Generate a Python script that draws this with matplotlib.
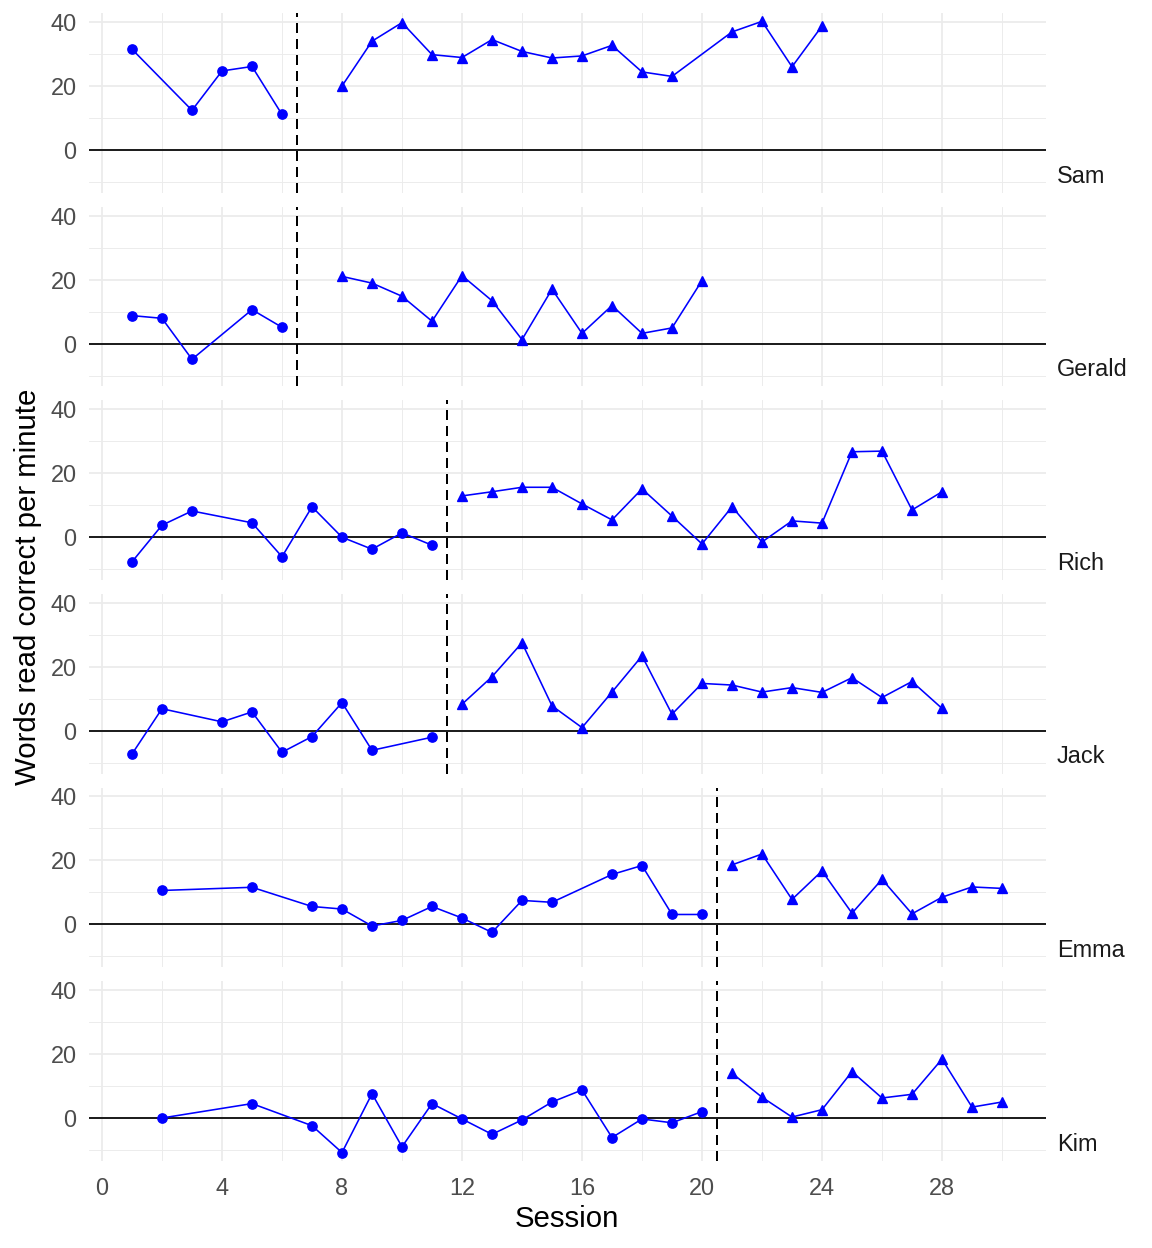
import matplotlib
matplotlib.use("Agg")
import matplotlib.pyplot as plt
from matplotlib.ticker import MultipleLocator

plt.rcParams['font.family'] = ['Liberation Sans', 'DejaVu Sans']

participants = ["Sam", "Gerald", "Rich", "Jack", "Emma", "Kim"]

sam_base_x = [1, 3, 4, 5, 6]
sam_base_y = [31.5, 12.4, 24.7, 26.1, 11.1]
sam_trt_x = [8, 9, 10, 11, 12, 13, 14, 15, 16, 17, 18, 19, 21, 22, 23, 24]
sam_trt_y = [20, 34, 39.8, 29.8, 28.9, 34.5, 30.8, 28.75, 29.4, 32.7, 24.4, 23, 36.9, 40.2, 26, 38.75]

gerald_base_x = [1, 2, 3, 5, 6]
gerald_base_y = [8.75, 7.9, -4.9, 10.6, 5.1]
gerald_trt_x = [8, 9, 10, 11, 12, 13, 14, 15, 16, 17, 18, 19, 20]
gerald_trt_y = [21, 18.9, 14.8, 7, 21.25, 13.4, 1.25, 17, 3.2, 11.9, 3.2, 4.9, 19.7]

rich_base_x = [1, 2, 3, 5, 6, 7, 8, 9, 10, 11]
rich_base_y = [-7.7, 3.75, 8.2, 4.5, -6.1, 9.5, 0, -3.75, 1.35, -2.5]
rich_trt_x = [12, 13, 14, 15, 16, 17, 18, 19, 20, 21, 22, 23, 24, 25, 26, 27, 28]
rich_trt_y = [12.9, 14.2, 15.6, 15.6, 10.4, 5.4, 15.1, 6.6, -2.1, 9.5, -1.5, 5.1, 4.4, 26.7, 26.9, 8.5, 14.2]

jack_base_x = [1, 2, 4, 5, 6, 7, 8, 9, 11]
jack_base_y = [-7.25, 6.9, 2.8, 5.9, -6.7, -1.8, 8.8, -6.1, -2.0]
jack_trt_x = [12, 13, 14, 15, 16, 17, 18, 19, 20, 21, 22, 23, 24, 25, 26, 27, 28]
jack_trt_y = [8.3, 16.9, 27.5, 7.8, 1.0, 12.1, 23.4, 5.2, 14.8, 14.3, 12.1, 13.5, 12.0, 16.6, 10.4, 15.4, 7.0]

emma_base_x = [2, 5, 7, 8, 9, 10, 11, 12, 13, 14, 15, 17, 18, 19, 20]
emma_base_y = [10.6, 11.6, 5.6, 4.8, -0.5, 1.25, 5.6, 2.0, -2.5, 7.5, 6.9, 15.6, 18.4, 3.1, 3.1]
emma_trt_x = [21, 22, 23, 24, 25, 26, 27, 28, 29, 30]
emma_trt_y = [18.6, 22, 7.8, 16.7, 3.5, 14.1, 3.3, 8.5, 11.7, 11.25]

kim_base_x = [2, 5, 7, 8, 9, 10, 11, 12, 13, 14, 15, 16, 17, 18, 19, 20]
kim_base_y = [0, 4.5, -2.4, -10.8, 7.6, -9.0, 4.5, -0.3, -5.1, -0.6, 5.0, 8.75, -6.1, -0.3, -1.5, 2.0]
kim_trt_x = [21, 22, 23, 24, 25, 26, 27, 28, 29, 30]
kim_trt_y = [14, 6.5, 0.3, 2.6, 14.5, 6.25, 7.4, 18.4, 3.4, 5.0]

phase_change = [6.5, 6.5, 11.5, 11.5, 20.5, 20.5]

x_ticks = [0, 4, 8, 12, 16, 20, 24, 28]
y_ticks = [0, 20, 40]

base_x = [sam_base_x, gerald_base_x, rich_base_x, jack_base_x, emma_base_x, kim_base_x]
base_y = [sam_base_y, gerald_base_y, rich_base_y, jack_base_y, emma_base_y, kim_base_y]
trt_x = [sam_trt_x, gerald_trt_x, rich_trt_x, jack_trt_x, emma_trt_x, kim_trt_x]
trt_y = [sam_trt_y, gerald_trt_y, rich_trt_y, jack_trt_y, emma_trt_y, kim_trt_y]

W, H = 1152, 1248
fig = plt.figure(figsize=(W / 96, H / 96), dpi=96)

ymin, ymax = -13.35, 42.75
xmin, xmax = -0.45, 31.45
ppu = 3.2
zero_px = [150 + 193.6 * i for i in range(6)]
left_px, right_px = 88.5, 1045.5
grid_c = "#EBEBEB"

axes = []
for i, name in enumerate(participants):
    top = zero_px[i] - ymax * ppu
    bot = zero_px[i] - ymin * ppu
    ax = fig.add_axes([left_px / W, 1 - bot / H, (right_px - left_px) / W, (bot - top) / H])
    ax.set_xlim(xmin, xmax)
    ax.set_ylim(ymin, ymax)
    for s in ax.spines.values():
        s.set_visible(False)
    ax.set_yticks(y_ticks)
    ax.yaxis.set_minor_locator(MultipleLocator(10))
    ax.set_xticks(x_ticks)
    ax.xaxis.set_minor_locator(MultipleLocator(2))
    ax.grid(which="major", color=grid_c, linewidth=1.3)
    ax.grid(which="minor", color=grid_c, linewidth=0.7)
    ax.set_axisbelow(True)
    ax.tick_params(which="both", length=0)
    ax.tick_params(axis="y", labelsize=17.6, labelcolor="#4D4D4D", pad=9)
    ax.tick_params(axis="x", labelsize=17.6, labelcolor="#4D4D4D", pad=12)
    if i < 5:
        ax.tick_params(axis="x", labelbottom=False)

    ax.axhline(0, color="black", linewidth=1.3, zorder=2)
    ax.axvline(phase_change[i], color="black", linewidth=1.5, linestyle=(0, (5, 3)), zorder=2)
    ax.plot(base_x[i], base_y[i], color="blue", linewidth=1.2, marker="o",
            markersize=7, zorder=3)
    ax.plot(trt_x[i], trt_y[i], color="blue", linewidth=1.2, marker="^",
            markersize=8.2, zorder=3)
    ax.text(1.0 + 11.5 / (right_px - left_px), 0.093, name, transform=ax.transAxes,
            ha="left", va="center", fontsize=17.6, color="#1A1A1A")
    axes.append(ax)

fig.text(28 / W, 1 - 587 / H, "Words read correct per minute", rotation=90,
         ha="center", va="center", fontsize=22, color="black")
fig.text(567 / W, 1 - 1219 / H, "Session", ha="center", va="center",
         fontsize=22, color="black")

fig.savefig("out.png", dpi=96, facecolor="white")
